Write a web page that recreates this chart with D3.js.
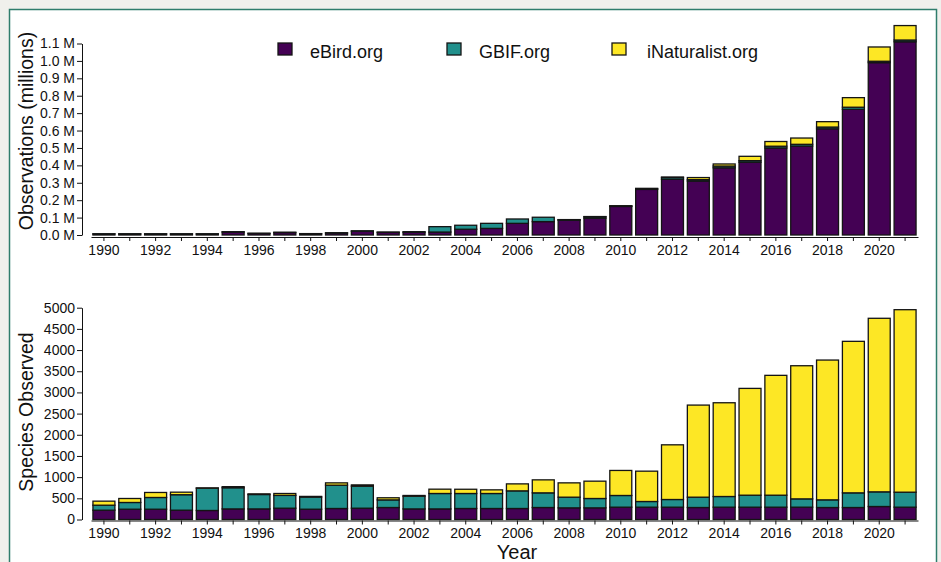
<!DOCTYPE html>
<html>
<head>
<meta charset="utf-8">
<script src="https://cdn.jsdelivr.net/npm/d3@7"></script>
<style>
  html, body { margin: 0; padding: 0; background: #f0f0ec; }
  svg { display: block; font-family: "Liberation Sans", Arial, sans-serif; }
</style>
</head>
<body>
<svg width="941" height="562"></svg>
<script>
const years = d3.range(1990, 2022);
const sources = ["eBird.org", "GBIF.org", "iNaturalist.org"];
const colors = ["#440154", "#21908C", "#FDE725"];

// observations, in millions
const ebirdObs = [0.006, 0.006, 0.006, 0.006, 0.006, 0.017, 0.009, 0.014, 0.007, 0.011,
  0.022, 0.015, 0.016, 0.017, 0.033, 0.038, 0.067, 0.077, 0.085, 0.097,
  0.164, 0.262, 0.320, 0.310, 0.386, 0.418, 0.500, 0.511, 0.610, 0.722, 0.990, 1.110];
const gbifObs = [0.001, 0.001, 0.001, 0.001, 0.001, 0.002, 0.001, 0.002, 0.001, 0.002,
  0.002, 0.002, 0.003, 0.031, 0.023, 0.029, 0.025, 0.025, 0.003, 0.008,
  0.003, 0.004, 0.010, 0.008, 0.010, 0.009, 0.010, 0.010, 0.010, 0.012, 0.008, 0.010];
const inatObs = [0, 0, 0, 0, 0, 0, 0, 0, 0, 0,
  0, 0, 0, 0, 0, 0, 0, 0, 0.0005, 0.001,
  0.001, 0.002, 0.003, 0.012, 0.012, 0.025, 0.027, 0.036, 0.031, 0.055, 0.082, 0.083];

// species observed
const ebirdSpecies = [220, 243, 243, 220, 213, 250, 250, 267, 243, 260,
  267, 283, 250, 250, 260, 260, 260, 283, 275, 275,
  291, 291, 291, 283, 291, 291, 291, 291, 283, 283, 307, 291];
const gbifSpecies = [118, 159, 277, 365, 527, 500, 340, 302, 287, 550,
  520, 180, 300, 364, 354, 354, 416, 346, 252, 221,
  276, 134, 181, 244, 252, 283, 283, 196, 181, 346, 346, 354];
const inatSpecies = [95, 94, 118, 60, 5, 25, 15, 45, 15, 55,
  30, 50, 17, 102, 100, 86, 165, 307, 338, 409,
  591, 716, 1291, 2174, 2213, 2521, 2829, 3143, 3300, 3577, 4097, 4308];

const obsTicks = d3.range(0, 12).map(d => d / 10);
const speciesTicks = d3.range(0, 5001, 500);

const svg = d3.select("svg");

// page frame
svg.append("rect")
  .attr("x", 9.5).attr("y", 9.5)
  .attr("width", 927).attr("height", 570)
  .attr("fill", "#ffffff")
  .attr("stroke", "#2f7d6c")
  .attr("stroke-width", 1.5);

const x = d3.scaleBand()
  .domain(years)
  .range([91, 918])
  .paddingInner(0.15)
  .paddingOuter(0.075);

function panel(rows, yScale, ticks, fmt, axisGap, title, titleY) {
  const stack = d3.stack().keys([0, 1, 2]);
  const layers = stack(rows);

  const g = svg.append("g");
  g.selectAll("g.layer")
    .data(layers)
    .join("g")
    .attr("class", "layer")
    .attr("fill", (d, i) => colors[i])
    .selectAll("rect")
    .data(d => d)
    .join("rect")
    .attr("x", (d, i) => x(years[i]))
    .attr("width", x.bandwidth())
    .attr("y", d => yScale(d[1]))
    .attr("height", d => Math.max(0, yScale(d[0]) - yScale(d[1])))
    .attr("stroke", "#141414")
    .attr("stroke-width", 1.3);

  const yAxis = svg.append("g")
    .attr("transform", "translate(82,0)")
    .call(d3.axisLeft(yScale).tickValues(ticks).tickFormat(fmt)
      .tickSize(5).tickSizeOuter(0).tickPadding(2));
  yAxis.selectAll("text").attr("font-size", 14).attr("fill", "#111");
  yAxis.selectAll("line, path").attr("stroke", "#111");
  yAxis.attr("font-family", null);

  const base = yScale(0) + axisGap;
  const xAxis = svg.append("g")
    .attr("transform", "translate(0," + base + ")")
    .call(d3.axisBottom(x).tickFormat(d => d % 2 === 0 ? d : "")
      .tickSize(4).tickSizeOuter(0).tickPadding(4));
  xAxis.selectAll("text").attr("font-size", 14).attr("fill", "#111");
  xAxis.selectAll("line, path").attr("stroke", "#111");
  xAxis.attr("font-family", null);

  svg.append("text")
    .attr("transform", "translate(33," + titleY + ") rotate(-90)")
    .attr("text-anchor", "middle")
    .attr("font-size", 19.5)
    .attr("fill", "#111")
    .text(title);
}

const yObs = d3.scaleLinear().domain([0, 1.1]).range([235, 43.5]);
const ySpecies = d3.scaleLinear().domain([0, 5000]).range([519.5, 307.7]);

panel(years.map((y, i) => [ebirdObs[i], gbifObs[i], inatObs[i]]),
  yObs, obsTicks, d => d3.format(".1f")(d) + " M", 2, "Observations (millions)", 131);

panel(years.map((y, i) => [ebirdSpecies[i], gbifSpecies[i], inatSpecies[i]]),
  ySpecies, speciesTicks, d => d, 1, "Species Observed", 412);

svg.append("text")
  .attr("x", 517).attr("y", 559)
  .attr("text-anchor", "middle")
  .attr("font-size", 20)
  .attr("fill", "#111")
  .text("Year");

// legend
const legendX = [278, 447, 612];
const legend = svg.append("g").selectAll("g")
  .data(sources)
  .join("g")
  .attr("transform", (d, i) => "translate(" + legendX[i] + ",43)");
legend.append("rect")
  .attr("width", 14).attr("height", 12)
  .attr("fill", (d, i) => colors[i])
  .attr("stroke", "#141414")
  .attr("stroke-width", 1.3);
legend.append("text")
  .attr("x", (d, i) => i === 2 ? 35 : 32)
  .attr("y", 14.5)
  .attr("font-size", 18)
  .attr("fill", "#111")
  .text(d => d);
</script>
</body>
</html>
